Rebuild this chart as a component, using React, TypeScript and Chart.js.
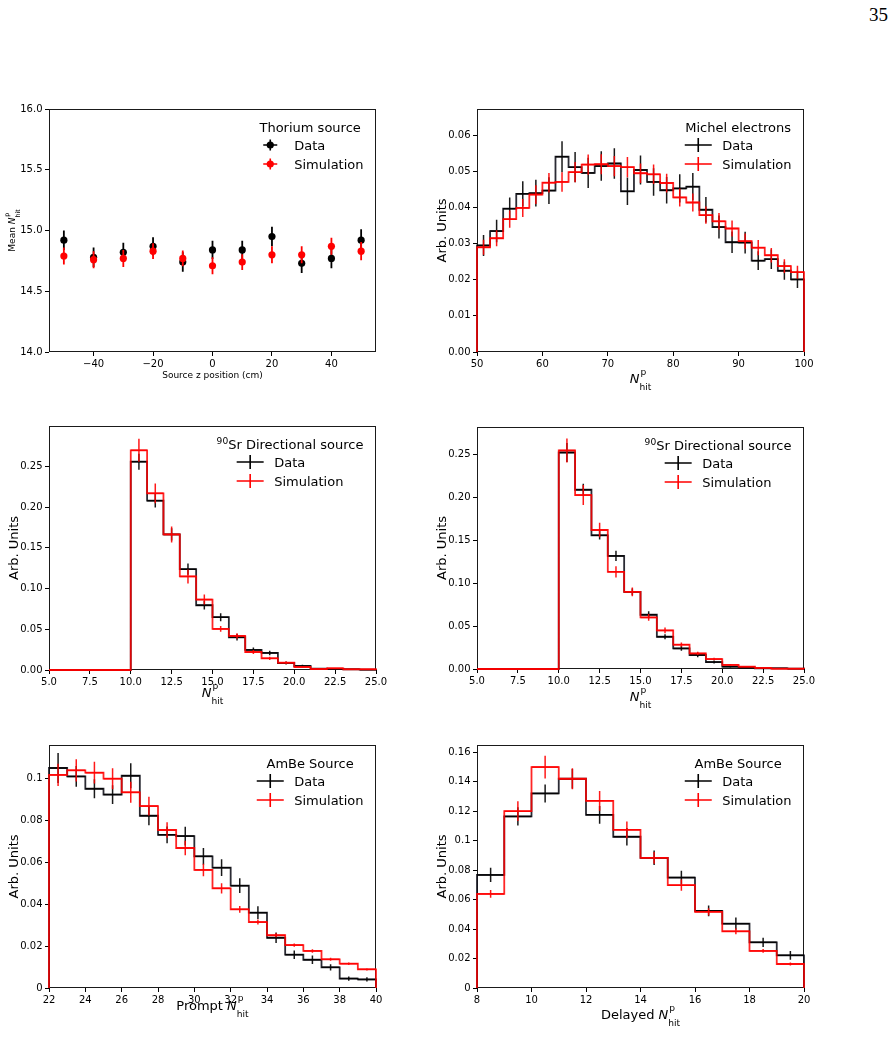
import React, { useEffect, useRef } from 'react';
import { Chart, registerables } from 'chart.js';

Chart.register(...registerables);

// ---------- Thorium source scan (mean prompt Nhit vs source z) ----------
const zPositions = [-50, -40, -30, -20, -10, 0, 10, 20, 30, 40, 50];
const thoriumData = [14.92, 14.78, 14.82, 14.87, 14.74, 14.84, 14.84, 14.95, 14.73, 14.77, 14.92];
const thoriumDataErr = [0.08, 0.08, 0.08, 0.075, 0.08, 0.075, 0.075, 0.08, 0.08, 0.08, 0.09];
const thoriumSim = [14.79, 14.76, 14.77, 14.83, 14.77, 14.71, 14.74, 14.80, 14.80, 14.87, 14.83];
const thoriumSimErr = [0.07, 0.07, 0.07, 0.065, 0.065, 0.07, 0.065, 0.07, 0.07, 0.07, 0.075];

// ---------- Michel electrons ----------
const michelEdges = [50, 52, 54, 56, 58, 60, 62, 64, 66, 68, 70, 72, 74, 76, 78, 80, 82, 84, 86, 88, 90, 92, 94, 96, 98, 100];
const michelData = [0.0295, 0.0335, 0.0397, 0.0438, 0.0440, 0.0447, 0.0541, 0.0512, 0.0496, 0.0515, 0.0522, 0.0445, 0.0504, 0.0471, 0.0448, 0.0453, 0.0458, 0.0394, 0.0346, 0.0304, 0.0303, 0.0253, 0.0257, 0.0225, 0.0201];
const michelDataErr = [0.0029, 0.0031, 0.0031, 0.0035, 0.0037, 0.0037, 0.0043, 0.0042, 0.0042, 0.0041, 0.0042, 0.0038, 0.0040, 0.0038, 0.0037, 0.0039, 0.0038, 0.0035, 0.0032, 0.0030, 0.0030, 0.0026, 0.0027, 0.0025, 0.0024];
const michelSim = [0.0290, 0.0315, 0.0368, 0.0399, 0.0436, 0.0469, 0.0471, 0.0498, 0.0519, 0.0520, 0.0515, 0.0512, 0.0495, 0.0492, 0.0468, 0.0428, 0.0414, 0.0379, 0.0362, 0.0342, 0.0307, 0.0289, 0.0268, 0.0238, 0.0221];
const michelSimErr = [0.0021, 0.0022, 0.0024, 0.0025, 0.0026, 0.0027, 0.0027, 0.0028, 0.0028, 0.0028, 0.0028, 0.0028, 0.0027, 0.0027, 0.0026, 0.0025, 0.0025, 0.0024, 0.0023, 0.0022, 0.0021, 0.0021, 0.0020, 0.0019, 0.0018];

// ---------- 90Sr directional source (two configurations) ----------
const srEdges = [5, 6, 7, 8, 9, 10, 11, 12, 13, 14, 15, 16, 17, 18, 19, 20, 21, 22, 23, 24, 25];
const srAData = [0, 0, 0, 0, 0, 0.2557, 0.2078, 0.1664, 0.1238, 0.0795, 0.0648, 0.0402, 0.0246, 0.0209, 0.0086, 0.0049, 0.0016, 0.0012, 0.0008, 0.0004];
const srADataErr = [0, 0, 0, 0, 0, 0.0098, 0.0082, 0.0075, 0.0068, 0.0052, 0.0050, 0.0040, 0.0030, 0.0028, 0.0018, 0.0014, 0.0008, 0.0007, 0.0005, 0.0004];
const srASim = [0, 0, 0, 0, 0, 0.2697, 0.2168, 0.1664, 0.1148, 0.0865, 0.0504, 0.0418, 0.0221, 0.0143, 0.0090, 0.0037, 0.0012, 0.0020, 0.0008, 0.0008];
const srASimErr = [0, 0, 0, 0, 0, 0.0140, 0.0120, 0.0098, 0.0086, 0.0062, 0.0036, 0.0033, 0.0025, 0.0020, 0.0015, 0.0010, 0.0006, 0.0008, 0.0005, 0.0005];
const srBData = [0, 0, 0, 0, 0, 0.2523, 0.2089, 0.1558, 0.1318, 0.0899, 0.0632, 0.0376, 0.0240, 0.0163, 0.0081, 0.0027, 0.0016, 0.0008, 0.0008, 0.0004];
const srBDataErr = [0, 0, 0, 0, 0, 0.0110, 0.0070, 0.0050, 0.0060, 0.0040, 0.0040, 0.0030, 0.0028, 0.0025, 0.0018, 0.0012, 0.0008, 0.0006, 0.0005, 0.0004];
const srBSim = [0, 0, 0, 0, 0, 0.2547, 0.2027, 0.1620, 0.1132, 0.0899, 0.0601, 0.0450, 0.0283, 0.0182, 0.0116, 0.0047, 0.0027, 0.0012, 0.0004, 0.0004];
const srBSimErr = [0, 0, 0, 0, 0, 0.0140, 0.0117, 0.0085, 0.0066, 0.0050, 0.0040, 0.0033, 0.0025, 0.0020, 0.0015, 0.0010, 0.0007, 0.0005, 0.0003, 0.0003];

// ---------- AmBe source: prompt and delayed ----------
const promptEdges = [22, 23, 24, 25, 26, 27, 28, 29, 30, 31, 32, 33, 34, 35, 36, 37, 38, 39, 40];
const promptData = [0.1051, 0.1011, 0.0952, 0.0924, 0.1014, 0.0823, 0.0732, 0.0726, 0.0629, 0.0575, 0.0489, 0.0360, 0.0240, 0.0159, 0.0135, 0.0099, 0.0045, 0.0041];
const promptDataErr = [0.0072, 0.0050, 0.0045, 0.0045, 0.0060, 0.0045, 0.0040, 0.0045, 0.0040, 0.0040, 0.0035, 0.0030, 0.0025, 0.0020, 0.0020, 0.0015, 0.0010, 0.0010];
const promptSim = [0.1018, 0.1040, 0.1029, 0.1000, 0.0935, 0.0869, 0.0755, 0.0669, 0.0564, 0.0476, 0.0376, 0.0315, 0.0252, 0.0205, 0.0177, 0.0137, 0.0116, 0.0089];
const promptSimErr = [0.0053, 0.0053, 0.0052, 0.0050, 0.0050, 0.0045, 0.0037, 0.0035, 0.0030, 0.0025, 0.0016, 0.0012, 0.0010, 0.0008, 0.0008, 0.0007, 0.0006, 0.0005];
const delayedEdges = [8, 9, 10, 11, 12, 13, 14, 15, 16, 17, 18, 19, 20];
const delayedData = [0.0768, 0.1165, 0.1321, 0.1421, 0.1176, 0.1027, 0.0884, 0.0750, 0.0524, 0.0437, 0.0310, 0.0222];
const delayedDataErr = [0.0048, 0.0062, 0.0061, 0.0066, 0.0060, 0.0059, 0.0049, 0.0046, 0.0037, 0.0042, 0.0032, 0.0030];
const delayedSim = [0.0639, 0.1201, 0.1500, 0.1421, 0.1271, 0.1074, 0.0884, 0.0698, 0.0517, 0.0385, 0.0252, 0.0163];
const delayedSimErr = [0.0026, 0.0067, 0.0077, 0.0071, 0.0067, 0.0057, 0.0040, 0.0038, 0.0025, 0.0020, 0.0012, 0.0010];

// ---------- tick values and labels ----------
const zTicks = [-40, -20, 0, 20, 40];
const zTickLabels = ['\u221240', '\u221220', '0', '20', '40'];
const thoriumYTicks = [14, 14.5, 15, 15.5, 16];
const thoriumYTickLabels = ['14.0', '14.5', '15.0', '15.5', '16.0'];
const michelXTicks = [50, 60, 70, 80, 90, 100];
const michelXTickLabels = ['50', '60', '70', '80', '90', '100'];
const michelYTicks = [0, 0.01, 0.02, 0.03, 0.04, 0.05, 0.06];
const michelYTickLabels = ['0.00', '0.01', '0.02', '0.03', '0.04', '0.05', '0.06'];
const srXTicks = [5, 7.5, 10, 12.5, 15, 17.5, 20, 22.5, 25];
const srXTickLabels = ['5.0', '7.5', '10.0', '12.5', '15.0', '17.5', '20.0', '22.5', '25.0'];
const srYTicks = [0, 0.05, 0.1, 0.15, 0.2, 0.25];
const srYTickLabels = ['0.00', '0.05', '0.10', '0.15', '0.20', '0.25'];
const promptXTicks = [22, 24, 26, 28, 30, 32, 34, 36, 38, 40];
const promptXTickLabels = ['22', '24', '26', '28', '30', '32', '34', '36', '38', '40'];
const promptYTicks = [0, 0.02, 0.04, 0.06, 0.08, 0.1];
const promptYTickLabels = ['0', '0.02', '0.04', '0.06', '0.08', '0.1'];
const delayedXTicks = [8, 10, 12, 14, 16, 18, 20];
const delayedXTickLabels = ['8', '10', '12', '14', '16', '18', '20'];
const delayedYTicks = [0, 0.02, 0.04, 0.06, 0.08, 0.1, 0.12, 0.14, 0.16];
const delayedYTickLabels = ['0', '0.02', '0.04', '0.06', '0.08', '0.1', '0.12', '0.14', '0.16'];

// ---------- drawing helpers ----------
const FONT = '"DejaVu Sans", "Liberation Sans", sans-serif';
const DATA_COLOR = '#000000';
const SIM_COLOR = '#ff0000';
const Y_AXIS_W = 48;
const PAD_T = 20;
const PAD_R = 30;
const X_AXIS_H = 50;

type Part = { t?: string; it?: boolean; sup?: string; sub?: string };
type Entry = { label: string; color: string };

interface PanelSpec {
  rect: { x: number; y: number; w: number; h: number };
  xRange: [number, number];
  yRange: [number, number];
  xTicks: number[];
  xTickLabels: string[];
  yTicks: number[];
  yTickLabels: string[];
  xTitle: Part[];
  xTitleSize: number;
  xTitleOffset: number;
  yTitle: Part[];
  yTitleSize: number;
  yTitleOffset: number;
  legendTitle: Part[];
  legendDot: boolean;
  entries: Entry[];
  datasets: any[];
}

function setFont(ctx: CanvasRenderingContext2D, size: number, italic = false) {
  ctx.font = `${italic ? 'italic ' : ''}${size}px ${FONT}`;
}

function partWidth(ctx: CanvasRenderingContext2D, p: Part, size: number) {
  if (p.t !== undefined) {
    setFont(ctx, size, !!p.it);
    return ctx.measureText(p.t).width;
  }
  const s = size * 0.7;
  setFont(ctx, s);
  const both = !!(p.sup && p.sub);
  const supW = p.sup ? ctx.measureText(p.sup).width + (both ? size * 0.08 : 0) : 0;
  const subW = p.sub ? ctx.measureText(p.sub).width : 0;
  return Math.max(supW, subW);
}

function richWidth(ctx: CanvasRenderingContext2D, parts: Part[], size: number) {
  return parts.reduce((w, p) => w + partWidth(ctx, p, size), 0);
}

function drawRich(ctx: CanvasRenderingContext2D, parts: Part[], x: number, y: number, size: number) {
  ctx.fillStyle = '#000';
  ctx.textAlign = 'left';
  ctx.textBaseline = 'alphabetic';
  let cx = x;
  for (const p of parts) {
    const w = partWidth(ctx, p, size);
    if (p.t !== undefined) {
      setFont(ctx, size, !!p.it);
      ctx.fillText(p.t, cx, y);
    } else {
      setFont(ctx, size * 0.7);
      const both = !!(p.sup && p.sub);
      if (p.sup) ctx.fillText(p.sup, cx + (both ? size * 0.08 : 0), y - size * (both ? 0.62 : 0.33));
      if (p.sub) ctx.fillText(p.sub, cx, y + size * 0.55);
    }
    cx += w;
  }
}

// Frame, axis titles and the legend box
function makeDecor(spec: PanelSpec) {
  return {
    id: 'decor',
    beforeDatasetsDraw(chart: any) {
      const { ctx, chartArea: a } = chart;
      ctx.save();
      ctx.strokeStyle = '#1a1a1a';
      ctx.lineWidth = 1;
      ctx.strokeRect(a.left + 0.5, a.top + 0.5, a.right - a.left - 1, a.bottom - a.top - 1);
      ctx.restore();
    },
    afterDraw(chart: any) {
      const { ctx, chartArea: a } = chart;
      ctx.save();
      // x title
      const xw = richWidth(ctx, spec.xTitle, spec.xTitleSize);
      drawRich(ctx, spec.xTitle, (a.left + a.right) / 2 - xw / 2, a.bottom + spec.xTitleOffset, spec.xTitleSize);
      // y title (rotated)
      const yw = richWidth(ctx, spec.yTitle, spec.yTitleSize);
      ctx.save();
      ctx.translate(a.left - spec.yTitleOffset, (a.top + a.bottom) / 2);
      ctx.rotate(-Math.PI / 2);
      drawRich(ctx, spec.yTitle, -yw / 2, 0, spec.yTitleSize);
      ctx.restore();

      // legend
      const size = 13;
      const HANDLE = 27;
      const GAP = 10.5;
      const titleW = richWidth(ctx, spec.legendTitle, size);
      setFont(ctx, size);
      const labelW = Math.max(...spec.entries.map((e) => ctx.measureText(e.label).width));
      const entW = HANDLE + GAP + labelW;
      const inner = Math.max(titleW, entW);
      const right = a.right - 12.5;
      const left = right - inner;
      drawRich(ctx, spec.legendTitle, left + (inner - titleW) / 2, a.top + 22.5, size);
      const el = left + (inner - entW) / 2;
      spec.entries.forEach((e, i) => {
        const base = a.top + 41 + 19 * i;
        const hy = base - 5;
        const hc = el + HANDLE / 2;
        ctx.strokeStyle = e.color;
        ctx.lineWidth = 1.6;
        ctx.beginPath();
        if (spec.legendDot) {
          ctx.moveTo(hc - 7, hy);
          ctx.lineTo(hc + 7, hy);
          ctx.moveTo(hc, hy - 5.5);
          ctx.lineTo(hc, hy + 5.5);
        } else {
          ctx.moveTo(el, hy);
          ctx.lineTo(el + HANDLE, hy);
          ctx.moveTo(hc, hy - 7);
          ctx.lineTo(hc, hy + 7);
        }
        ctx.stroke();
        if (spec.legendDot) {
          ctx.fillStyle = e.color;
          ctx.beginPath();
          ctx.arc(hc, hy, 3.6, 0, Math.PI * 2);
          ctx.fill();
        }
        setFont(ctx, size);
        ctx.fillStyle = '#000';
        ctx.textAlign = 'left';
        ctx.textBaseline = 'alphabetic';
        ctx.fillText(e.label, el + HANDLE + GAP, base);
      });
      ctx.restore();
    },
  };
}

// Step outline of a histogram: starts and ends on zero at the outer bin edges
function stepPoints(edges: number[], values: number[]) {
  const pts: { x: number; y: number }[] = [{ x: edges[0], y: 0 }];
  values.forEach((v, i) => pts.push({ x: edges[i], y: v }));
  pts.push({ x: edges[edges.length - 1], y: 0 });
  return pts;
}

// Error bars at bin centres (vertical) plus the half-bin horizontal bars
function binErrorPoints(edges: number[], values: number[], errs: number[]) {
  const pts: { x: number; y: number | null }[] = [];
  values.forEach((v, i) => {
    const lo = edges[i];
    const hi = edges[i + 1];
    const c = (lo + hi) / 2;
    if (errs[i] > 0) {
      pts.push({ x: c, y: v - errs[i] }, { x: c, y: v + errs[i] }, { x: c, y: null });
    }
    pts.push({ x: lo, y: v }, { x: hi, y: v }, { x: hi, y: null });
  });
  return pts;
}

function histDatasets(edges: number[], data: number[], dataErr: number[], sim: number[], simErr: number[]) {
  const common = { pointRadius: 0, fill: false, tension: 0, clip: false, spanGaps: false };
  return [
    { ...common, type: 'line', data: binErrorPoints(edges, sim, simErr), borderColor: 'rgba(255,0,0,0.9)', borderWidth: 1.5, order: 0 },
    { ...common, type: 'line', data: stepPoints(edges, sim), stepped: 'before', borderColor: 'rgba(255,0,0,0.85)', borderWidth: 1.8, order: 1 },
    { ...common, type: 'line', data: binErrorPoints(edges, data, dataErr), borderColor: 'rgba(0,0,0,0.9)', borderWidth: 1.5, order: 2 },
    { ...common, type: 'line', data: stepPoints(edges, data), stepped: 'before', borderColor: 'rgba(20,20,30,0.9)', borderWidth: 1.8, order: 3 },
  ];
}

function pointErrorPoints(xs: number[], ys: number[], errs: number[]) {
  const pts: { x: number; y: number | null }[] = [];
  xs.forEach((x, i) => pts.push({ x, y: ys[i] - errs[i] }, { x, y: ys[i] + errs[i] }, { x, y: null }));
  return pts;
}

function pointDatasets() {
  const bars = { pointRadius: 0, fill: false, clip: false, spanGaps: false, borderWidth: 1.8 };
  const marks = { showLine: false, pointRadius: 3.6, pointBorderWidth: 0, clip: false };
  return [
    { ...marks, type: 'line', data: zPositions.map((x, i) => ({ x, y: thoriumSim[i] })), pointBackgroundColor: SIM_COLOR, pointBorderColor: SIM_COLOR, borderColor: SIM_COLOR, order: 0 },
    { ...bars, type: 'line', data: pointErrorPoints(zPositions, thoriumSim, thoriumSimErr), borderColor: SIM_COLOR, order: 1 },
    { ...marks, type: 'line', data: zPositions.map((x, i) => ({ x, y: thoriumData[i] })), pointBackgroundColor: DATA_COLOR, pointBorderColor: DATA_COLOR, borderColor: DATA_COLOR, order: 2 },
    { ...bars, type: 'line', data: pointErrorPoints(zPositions, thoriumData, thoriumDataErr), borderColor: DATA_COLOR, order: 3 },
  ];
}

const nhit: Part[] = [{ t: 'N', it: true }, { sup: 'p', sub: 'hit' }];
const arbUnits: Part[] = [{ t: 'Arb. Units' }];
const srTitle: Part[] = [{ sup: '90' }, { t: 'Sr Directional source' }];
const defaultEntries: Entry[] = [
  { label: 'Data', color: DATA_COLOR },
  { label: 'Simulation', color: SIM_COLOR },
];

const panels: PanelSpec[] = [
  {
    rect: { x: 49, y: 109, w: 327, h: 243 },
    xRange: [-55, 55], yRange: [14, 16],
    xTicks: zTicks, xTickLabels: zTickLabels, yTicks: thoriumYTicks, yTickLabels: thoriumYTickLabels,
    xTitle: [{ t: 'Source z position (cm)' }], xTitleSize: 9, xTitleOffset: 25.5,
    yTitle: [{ t: 'Mean ' }, { t: 'N', it: true }, { sup: 'p', sub: 'hit' }], yTitleSize: 9, yTitleOffset: 34,
    legendTitle: [{ t: 'Thorium source' }], legendDot: true, entries: defaultEntries,
    datasets: pointDatasets(),
  },
  {
    rect: { x: 477, y: 109, w: 327, h: 243 },
    xRange: [50, 100], yRange: [0, 0.0673],
    xTicks: michelXTicks, xTickLabels: michelXTickLabels, yTicks: michelYTicks, yTickLabels: michelYTickLabels,
    xTitle: nhit, xTitleSize: 13, xTitleOffset: 31,
    yTitle: arbUnits, yTitleSize: 13, yTitleOffset: 31.5,
    legendTitle: [{ t: 'Michel electrons' }], legendDot: false, entries: defaultEntries,
    datasets: histDatasets(michelEdges, michelData, michelDataErr, michelSim, michelSimErr),
  },
  {
    rect: { x: 49, y: 426, w: 327, h: 244 },
    xRange: [5, 25], yRange: [0, 0.2995],
    xTicks: srXTicks, xTickLabels: srXTickLabels, yTicks: srYTicks, yTickLabels: srYTickLabels,
    xTitle: nhit, xTitleSize: 13, xTitleOffset: 27,
    yTitle: arbUnits, yTitleSize: 13, yTitleOffset: 31.5,
    legendTitle: srTitle, legendDot: false, entries: defaultEntries,
    datasets: histDatasets(srEdges, srAData, srADataErr, srASim, srASimErr),
  },
  {
    rect: { x: 477, y: 427, w: 327, h: 242 },
    xRange: [5, 25], yRange: [0, 0.282],
    xTicks: srXTicks, xTickLabels: srXTickLabels, yTicks: srYTicks, yTickLabels: srYTickLabels,
    xTitle: nhit, xTitleSize: 13, xTitleOffset: 32,
    yTitle: arbUnits, yTitleSize: 13, yTitleOffset: 31.5,
    legendTitle: srTitle, legendDot: false, entries: defaultEntries,
    datasets: histDatasets(srEdges, srBData, srBDataErr, srBSim, srBSimErr),
  },
  {
    rect: { x: 49, y: 745, w: 327, h: 243 },
    xRange: [22, 40], yRange: [0, 0.1161],
    xTicks: promptXTicks, xTickLabels: promptXTickLabels, yTicks: promptYTicks, yTickLabels: promptYTickLabels,
    xTitle: [{ t: 'Prompt ' }, ...nhit], xTitleSize: 13, xTitleOffset: 21.5,
    yTitle: arbUnits, yTitleSize: 13, yTitleOffset: 31.5,
    legendTitle: [{ t: 'AmBe Source' }], legendDot: false, entries: defaultEntries,
    datasets: histDatasets(promptEdges, promptData, promptDataErr, promptSim, promptSimErr),
  },
  {
    rect: { x: 477, y: 745, w: 327, h: 243 },
    xRange: [8, 20], yRange: [0, 0.165],
    xTicks: delayedXTicks, xTickLabels: delayedXTickLabels, yTicks: delayedYTicks, yTickLabels: delayedYTickLabels,
    xTitle: [{ t: 'Delayed ' }, ...nhit], xTitleSize: 13, xTitleOffset: 31,
    yTitle: arbUnits, yTitleSize: 13, yTitleOffset: 31.5,
    legendTitle: [{ t: 'AmBe Source' }], legendDot: false, entries: defaultEntries,
    datasets: histDatasets(delayedEdges, delayedData, delayedDataErr, delayedSim, delayedSimErr),
  },
];

function buildConfig(spec: PanelSpec): any {
  const tickFont = { family: FONT, size: 10 };
  const grid = { display: true, drawOnChartArea: false, drawTicks: true, tickLength: 4, color: '#000', lineWidth: 1 };
  return {
    type: 'line',
    data: { datasets: spec.datasets },
    options: {
      animation: false,
      responsive: false,
      events: [],
      layout: { padding: { left: 0, top: PAD_T, right: PAD_R, bottom: 0 } },
      plugins: { legend: { display: false }, tooltip: { enabled: false }, title: { display: false } },
      scales: {
        x: {
          type: 'linear',
          min: spec.xRange[0],
          max: spec.xRange[1],
          afterFit: (s: any) => { s.height = X_AXIS_H; },
          afterBuildTicks: (s: any) => { s.ticks = spec.xTicks.map((v) => ({ value: v })); },
          ticks: {
            autoSkip: false, maxRotation: 0, minRotation: 0, padding: 2, color: '#000', font: tickFont,
            callback: (_v: any, i: number) => spec.xTickLabels[i],
          },
          grid,
          border: { display: false },
        },
        y: {
          type: 'linear',
          min: spec.yRange[0],
          max: spec.yRange[1],
          afterFit: (s: any) => { s.width = Y_AXIS_W; },
          afterBuildTicks: (s: any) => { s.ticks = spec.yTicks.map((v) => ({ value: v })); },
          ticks: {
            autoSkip: false, padding: 2.5, color: '#000', font: tickFont,
            callback: (_v: any, i: number) => spec.yTickLabels[i],
          },
          grid,
          border: { display: false },
        },
      },
    },
    plugins: [makeDecor(spec)],
  };
}

function Panel({ spec }: { spec: PanelSpec }) {
  const ref = useRef<HTMLCanvasElement>(null);
  const W = Y_AXIS_W + spec.rect.w + PAD_R;
  const H = PAD_T + spec.rect.h + X_AXIS_H;
  useEffect(() => {
    const chart = new Chart(ref.current as HTMLCanvasElement, buildConfig(spec));
    return () => chart.destroy();
  }, [spec]);
  return (
    <canvas
      ref={ref}
      width={W}
      height={H}
      style={{ position: 'absolute', left: spec.rect.x - Y_AXIS_W, top: spec.rect.y - PAD_T, width: W, height: H }}
    />
  );
}

export default function App() {
  return (
    <div style={{ position: 'absolute', left: 0, top: 0, width: 894, height: 1063, background: '#fff', overflow: 'hidden' }}>
      <div
        style={{
          position: 'absolute', left: 838, top: 5, width: 50, textAlign: 'right',
          fontFamily: '"Liberation Serif", "DejaVu Serif", serif', fontSize: 19, lineHeight: '20px', color: '#000',
        }}
      >
        35
      </div>
      {panels.map((p, i) => (
        <Panel key={i} spec={p} />
      ))}
    </div>
  );
}
